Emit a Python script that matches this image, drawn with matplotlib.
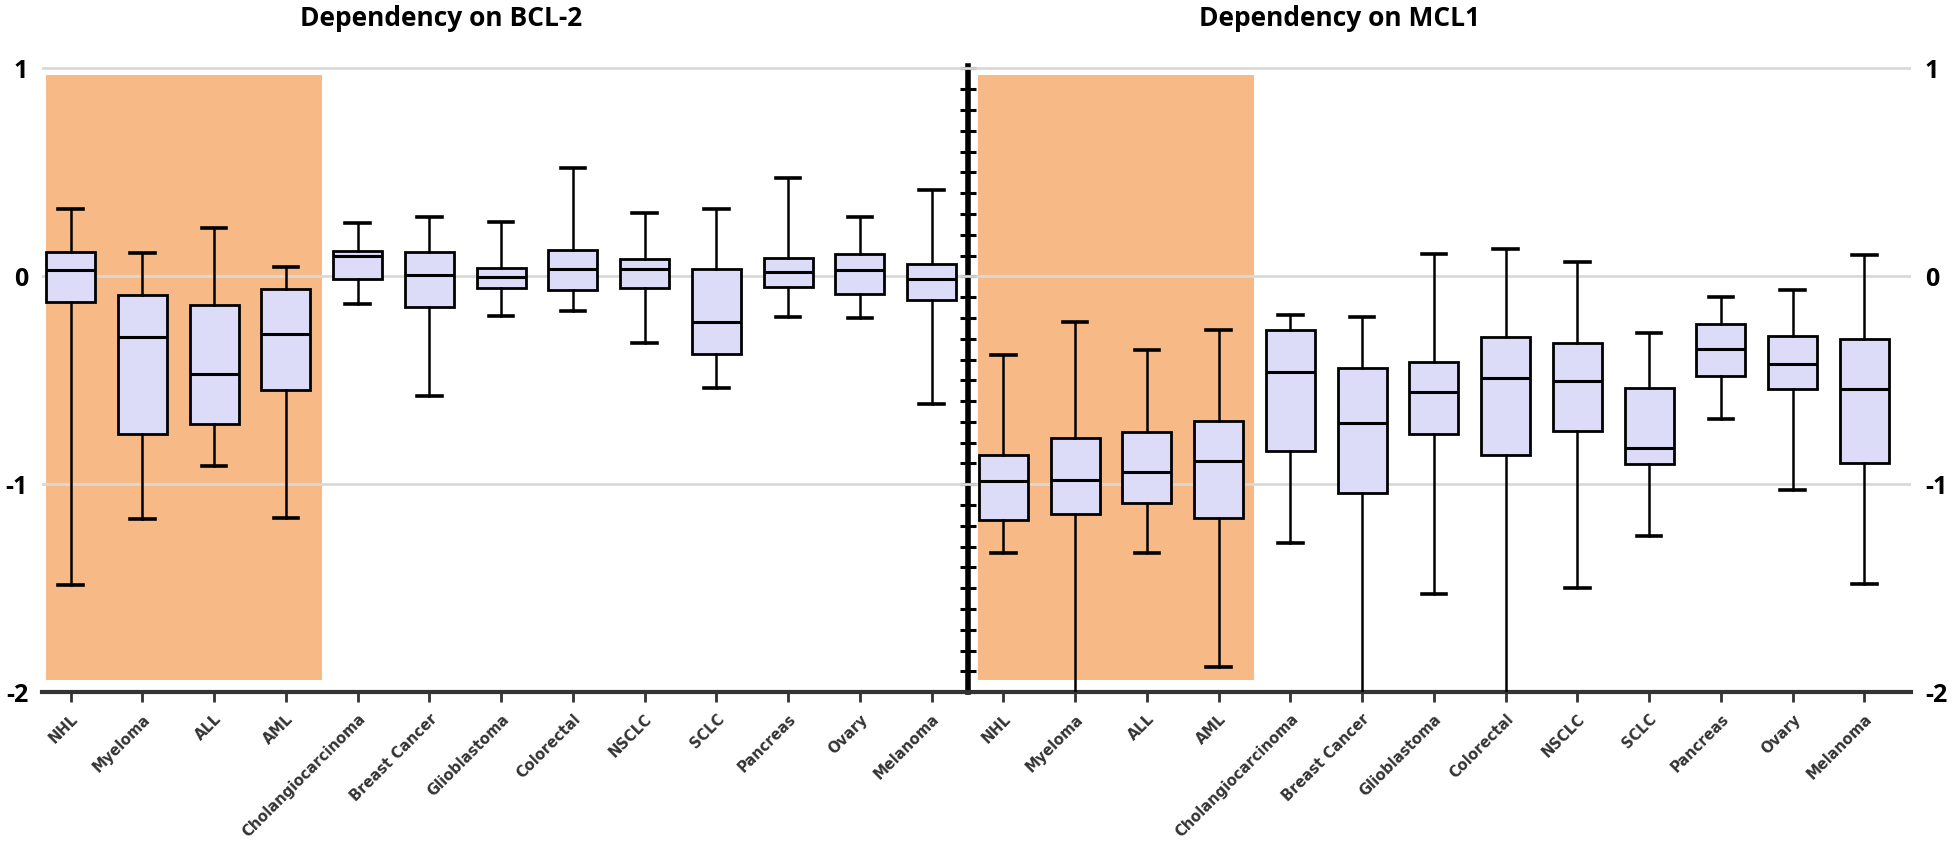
import matplotlib
matplotlib.use("Agg")
import matplotlib.pyplot as plt
import matplotlib.transforms as mtransforms
from matplotlib.ticker import MultipleLocator

# ============  data  ============
cancers = ['NHL', 'Myeloma', 'ALL', 'AML', 'Cholangiocarcinoma', 'Breast Cancer',
           'Glioblastoma', 'Colorectal', 'NSCLC', 'SCLC', 'Pancreas', 'Ovary', 'Melanoma']
titles = ['Dependency on BCL-2', 'Dependency on MCL1']

bcl2_whishi = [0.325, 0.114, 0.234, 0.047, 0.258, 0.287, 0.261, 0.522, 0.306, 0.322, 0.471, 0.285, 0.413]
bcl2_q3 = [0.119, -0.09, -0.139, -0.059, 0.122, 0.119, 0.042, 0.127, 0.082, 0.037, 0.087, 0.109, 0.058]
bcl2_med = [0.03, -0.29, -0.468, -0.279, 0.098, 0.006, -0.005, 0.034, 0.034, -0.22, 0.022, 0.029, -0.014]
bcl2_q1 = [-0.124, -0.76, -0.71, -0.547, -0.014, -0.146, -0.054, -0.066, -0.054, -0.375, -0.05, -0.083, -0.115]
bcl2_whislo = [-1.486, -1.165, -0.912, -1.16, -0.135, -0.575, -0.191, -0.167, -0.319, -0.538, -0.196, -0.199, -0.612]

mcl1_whishi = [-0.38, -0.22, -0.354, -0.258, -0.186, -0.196, 0.109, 0.133, 0.071, -0.271, -0.098, -0.066, 0.101]
mcl1_q3 = [-0.861, -0.776, -0.747, -0.696, -0.26, -0.439, -0.412, -0.292, -0.319, -0.535, -0.231, -0.287, -0.3]
mcl1_med = [-0.984, -0.979, -0.941, -0.888, -0.458, -0.707, -0.556, -0.487, -0.503, -0.824, -0.351, -0.423, -0.54]
mcl1_q1 = [-1.171, -1.144, -1.091, -1.163, -0.84, -1.043, -0.76, -0.861, -0.744, -0.901, -0.479, -0.543, -0.899]
# whiskers below -2 run off the bottom of the chart
mcl1_whislo = [-1.332, -2.1, -1.329, -1.881, -1.284, -2.1, -1.526, -2.1, -1.5, -1.248, -0.688, -1.027, -1.481]

n_heme = 4  # haematological cancers, shaded orange

# ============  build box stats  ============
stats = []
for lo, q1, med, q3, hi in zip(bcl2_whislo + mcl1_whislo, bcl2_q1 + mcl1_q1, bcl2_med + mcl1_med,
                               bcl2_q3 + mcl1_q3, bcl2_whishi + mcl1_whishi):
    stats.append(dict(whislo=lo, q1=q1, med=med, q3=q3, whishi=hi, fliers=[]))
n = len(cancers)
pos = list(range(2 * n))

# ============  plot  ============
fig = plt.figure(figsize=(19.6, 8.61), dpi=100)
ax = fig.add_axes([0.0214, 0.196, 0.9536, 0.727])

ax.bxp(stats, positions=pos, widths=0.68, capwidths=0.34, patch_artist=True, showfliers=False,
       boxprops=dict(facecolor='#dcdcf8', edgecolor='black', linewidth=2.0),
       medianprops=dict(color='black', linewidth=2.2),
       whiskerprops=dict(color='black', linewidth=1.8),
       capprops=dict(color='black', linewidth=2.6), zorder=3)

# orange shading behind the haematological cancers
for start in (0, n):
    ax.fill_between([start - 0.35, start + n_heme - 0.5], -1.94, 0.97,
                    color='#f7b986', lw=0, zorder=0)

ax.set_xlim(-0.4, 2 * n - 0.35)
ax.set_ylim(-2.0, 1.01)

ax.set_xticks(pos)
ax.set_xticklabels(cancers + cancers, rotation=45, ha='right', rotation_mode='anchor',
                   fontsize=10.5, fontweight='bold', color='#333333', family='DejaVu Sans')
ax.tick_params(axis='x', length=7, width=2, color='#333333', pad=7)

ax.set_yticks([-2, -1, 0, 1])
ax.set_yticklabels(['-2', '-1', '0', '1'])
ax.tick_params(axis='y', length=0, labelleft=True, labelright=True, labelsize=18, pad=10)
for t in ax.yaxis.get_major_ticks():
    t.label1.set_fontweight('bold')
    t.label2.set_fontweight('bold')
    t.label1.set_family('Open Sans')
    t.label2.set_family('Open Sans')

ax.set_axisbelow(True)
ax.yaxis.grid(True, color='#d9d9d9', lw=2)

for s in ('left', 'right', 'top'):
    ax.spines[s].set_visible(False)
ax.spines['bottom'].set_linewidth(3)
ax.spines['bottom'].set_color('#333333')

# divider between the two panels, with 0.1 ticks
x0, x1 = ax.get_xlim()
sec = ax.secondary_yaxis((n - 0.5 - x0) / (x1 - x0))
sec.spines['left'].set_linewidth(4)
sec.yaxis.set_major_locator(MultipleLocator(0.1))
sec.tick_params(direction='inout', length=12, width=2.2, labelleft=False, labelright=False)

trans = mtransforms.blended_transform_factory(ax.transData, fig.transFigure)
ax.text(5.16, 0.979, titles[0], transform=trans, ha='center', va='center',
        fontsize=19, fontweight='bold', family='Open Sans')
ax.text(17.69, 0.979, titles[1], transform=trans, ha='center', va='center',
        fontsize=19, fontweight='bold', family='Open Sans')

fig.savefig('out.png', dpi=100)
